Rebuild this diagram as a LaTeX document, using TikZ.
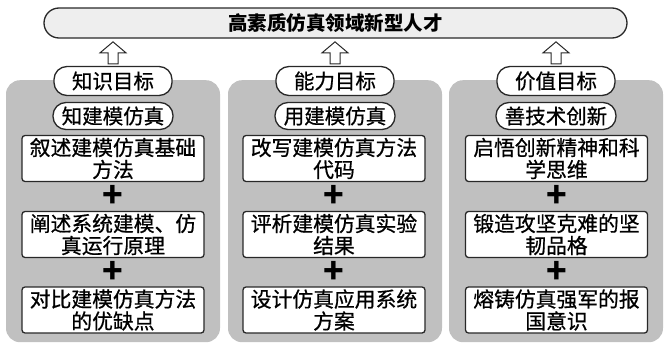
\documentclass[tikz,border=0pt]{standalone}
\usepackage{fontspec}
\setmainfont{Noto Sans CJK SC}
\newfontfamily\medfont[FakeBold=0.7]{Noto Sans CJK SC}
\usetikzlibrary{calc,positioning}
\definecolor{panelgray}{RGB}{192,192,192}
\definecolor{linegray}{RGB}{40,40,40}
\definecolor{topfill}{RGB}{238,238,238}
\tikzset{
  panel/.style={fill=panelgray,draw=none,rounded corners=14pt,minimum width=214pt,minimum height=262pt,anchor=north,inner sep=0pt},
  topbar/.style={draw=linegray,line width=1.3pt,fill=topfill,rounded corners=15pt,minimum width=583pt,minimum height=30pt,inner sep=0pt,font=\fontsize{19.5}{22}\selectfont\bfseries},
  pill/.style={draw=linegray,line width=1.3pt,fill=white,rounded corners=13pt,minimum width=118pt,minimum height=29pt,inner sep=0pt,font=\medfont\fontsize{20.5}{22}\selectfont},
  pilltwo/.style={pill,minimum width=120pt,minimum height=27pt},
  stepbox/.style={draw=linegray,line width=1.3pt,fill=white,rounded corners=3pt,minimum width=182pt,minimum height=46pt,inner sep=0pt,align=center,text width=176pt,font=\medfont\fontsize{20.8}{22}\selectfont},
  plussign/.style={inner sep=0pt,font=\fontsize{34}{34}\selectfont\bfseries},
  harrow/.style={draw=linegray,line width=1pt,fill=white,line join=miter}
}
\newcommand\hollowup[1]{%
  \draw[harrow] ($(#1.north)+(-5pt,2pt)$) -- ++(0pt,11pt) -- ++(-8pt,0pt) -- ++(13pt,11pt) -- ++(13pt,-11pt) -- ++(-8pt,0pt) -- ++(0pt,-11pt) -- cycle;}
\begin{document}
\begin{tikzpicture}[x=1pt,y=-1pt]
\useasboundingbox (0,0) rectangle (665,343);
% panels
\node[panel] (p1) at (113,80) {};
\node[panel] (p2) at (335,80) {};
\node[panel] (p3) at (556,80) {};
% top
\node[topbar] (top) at (335.5,23) {高素质仿真领域新型人才};
% column labels
\node[pill] (k1) at (113,81) {知识目标};
\node[pill] (k2) at (335,81) {能力目标};
\node[pill] (k3) at (556,81) {价值目标};
\node[pilltwo] (s1) at (113,116) {知建模仿真};
\node[pilltwo] (s2) at (335,116) {用建模仿真};
\node[pilltwo] (s3) at (556,116) {善技术创新};
% arrows
\hollowup{k1}
\hollowup{k2}
\hollowup{k3}
% boxes column 1
\node[stepbox] (a1) at (113,158.5) {叙述建模仿真基础\\方法};
\node[stepbox] (a2) at (113,234.5) {阐述系统建模、仿\\真运行原理};
\node[stepbox] (a3) at (113,310) {对比建模仿真方法\\的优缺点};
% column 2
\node[stepbox] (b1) at (334,158.5) {改写建模仿真方法\\代码};
\node[stepbox] (b2) at (334,234.5) {评析建模仿真实验\\结果};
\node[stepbox] (b3) at (334,310) {设计仿真应用系统\\方案};
% column 3
\node[stepbox] (c1) at (556.5,158.5) {启悟创新精神和科\\学思维};
\node[stepbox] (c2) at (556.5,234.5) {锻造攻坚克难的坚\\韧品格};
\node[stepbox] (c3) at (556.5,310) {熔铸仿真强军的报\\国意识};
% plus signs
\node[plussign] (pa1) at ($(a1.south)!0.5!(a2.north)$) {+};
\node[plussign] (pa2) at ($(a2.south)!0.5!(a3.north)$) {+};
\node[plussign] (pb1) at ($(b1.south)!0.5!(b2.north)$) {+};
\node[plussign] (pb2) at ($(b2.south)!0.5!(b3.north)$) {+};
\node[plussign] (pc1) at ($(c1.south)!0.5!(c2.north)$) {+};
\node[plussign] (pc2) at ($(c2.south)!0.5!(c3.north)$) {+};
\end{tikzpicture}
\end{document}
